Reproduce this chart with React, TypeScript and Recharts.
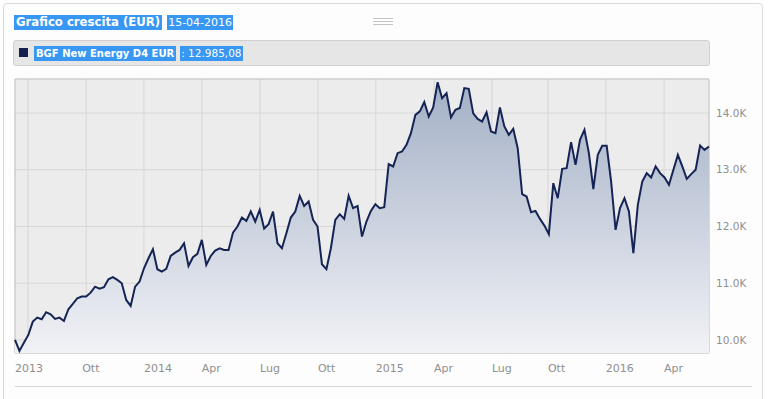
import React from "react";
import { Area, AreaChart, CartesianGrid, ReferenceArea, XAxis, YAxis } from "recharts";

// weekly NAV values (EUR)
const weeklyNav = [
  10000, 9806, 9950, 10088, 10323, 10394, 10365, 10489, 10453, 10370, 10394, 10335, 10541,
  10635, 10735, 10764, 10764, 10834, 10940, 10905, 10929, 11070, 11106, 11058, 11000, 10705,
  10600, 10940, 11029, 11264, 11440, 11599, 11247, 11205, 11252, 11481, 11540, 11587, 11705,
  11305, 11458, 11517, 11764, 11323, 11481, 11575, 11616, 11587, 11587, 11893, 11999, 12158,
  12099,
  12264, 12087, 12293, 11965, 12041, 12264, 11705, 11616, 11881, 12158, 12264, 12540, 12363,
  12440, 12117, 11999, 11335, 11247, 11616, 12117, 12217, 12134, 12540, 12323, 12363, 11823,
  12087, 12275, 12393, 12323, 12340, 13100, 13058, 13293, 13323, 13440, 13646, 13968, 14029,
  14194, 13940, 14100, 14543, 14262, 14350, 13923, 14058, 14088, 14440, 14427, 13994, 13897,
  13850,
  14013, 13674, 13646, 14100, 13763, 13616, 13721, 13381, 12569, 12528, 12251, 12275, 12134,
  12016, 11864, 12763, 12499, 13016, 13029, 13487, 13086, 13527, 13704, 13293, 12658, 13263,
  13422, 13422, 12793, 11940, 12323, 12499, 12264, 11529, 12381, 12793, 12940, 12864, 13058,
  12940, 12864, 12734, 13000, 13263, 13058, 12840, 12923, 13000, 13428, 13351, 13410,
];

const tickWeeks = [2.9, 16.0, 29.0, 42.0, 55.1, 68.1, 81.1, 94.2, 107.2, 119.8, 132.8, 145.9];
const tickLabels = ["2013", "Ott", "2014", "Apr", "Lug", "Ott", "2015", "Apr", "Lug", "Ott", "2016", "Apr"];
const yTicks = [10000, 11000, 12000, 13000, 14000];
const yDomain = [9770, 14600];

const seriesName = "BGF New Energy D4 EUR";
const lastValue = "12.985,08";

const data = weeklyNav.map((v, i) => ({ week: i, nav: v }));

const FONT = '"DejaVu Sans", Verdana, sans-serif';
const HIGHLIGHT = "#3797f2";

const hl: React.CSSProperties = {
  height: 15, lineHeight: "15px", padding: "0 2px", background: HIGHLIGHT, color: "#fff", whiteSpace: "nowrap",
};

function MonthTick({ x, y, payload }: any) {
  const i = tickWeeks.indexOf(payload.value);
  // first two labels sit a bit left of their grid line in the original
  const shift = i === 0 ? -13 : i === 1 ? -4 : 0;
  return (
    <text x={x + shift} y={y + 19} fill="#8f8f8f" fontSize={11} fontFamily={FONT} textAnchor="start">
      {tickLabels[i]}
    </text>
  );
}

export default function App() {
  return (
    <div style={{ position: "absolute", left: 0, top: 0, width: 771, height: 399, background: "#fff", overflow: "hidden", fontFamily: FONT }}>
      <div style={{ position: "absolute", left: 3, top: 3, width: 758, height: 420, border: "1px solid #d9d9d9", borderRadius: 4, background: "#fdfdfd" }} />

      <div style={{ position: "absolute", left: 14, top: 15, display: "flex", gap: 5 }}>
        <span style={{ ...hl, fontSize: 11.7, fontWeight: "bold" }}>Grafico crescita (EUR)</span>
        <span style={{ ...hl, fontSize: 11, padding: "0 1px" }}>15-04-2016</span>
      </div>

      {[18, 21, 24].map((t) => (
        <div key={t} style={{ position: "absolute", left: 373, top: t, width: 20, height: 1, background: "#c4c4c4" }} />
      ))}

      <div style={{ position: "absolute", left: 13, top: 40, width: 695, height: 24, background: "#e6e6e6", border: "1px solid #d0d0d0", borderRadius: 3 }} />
      <div style={{ position: "absolute", left: 19, top: 48, width: 9, height: 9, background: "#14214f" }} />
      <div style={{ position: "absolute", left: 34, top: 46, display: "flex", gap: 4 }}>
        <span style={{ ...hl, fontSize: 10, fontWeight: "bold" }}>{seriesName}</span>
        <span style={{ ...hl, fontSize: 10.5, padding: "0 1px" }}>{": " + lastValue}</span>
      </div>

      <div style={{ position: "absolute", left: 15, top: 386, width: 737, height: 1, background: "#d6d6d6" }} />

      <div style={{ position: "absolute", left: 0, top: 0 }}>
        <AreaChart width={771} height={399} data={data} margin={{ top: 79, right: 12, bottom: 16, left: 15 }}>
          <defs>
            <linearGradient id="navFill" x1="0" y1="0" x2="0" y2="1">
              <stop offset="0%" stopColor="#a3b0c6" />
              <stop offset="100%" stopColor="#f1f2f6" />
            </linearGradient>
          </defs>
          <CartesianGrid stroke="#d7d7d7" fill="#ececec" />
          <ReferenceArea x1={0} x2={156} y1={yDomain[0]} y2={yDomain[1]} fill="none" stroke="#c8c8c8" ifOverflow="visible" />
          <XAxis
            dataKey="week"
            type="number"
            domain={[0, 156]}
            ticks={tickWeeks}
            interval={0}
            height={30}
            tickLine={false}
            axisLine={false}
            tickSize={0}
            tickMargin={0}
            tick={<MonthTick />}
          />
          <YAxis
            orientation="right"
            width={50}
            domain={yDomain}
            ticks={yTicks}
            interval={0}
            tickLine={false}
            axisLine={false}
            tickSize={0}
            tickMargin={7}
            tick={{ fill: "#8f8f8f", fontSize: 10.5, fontFamily: FONT }}
            tickFormatter={(v: number) => `${(v / 1000).toFixed(1)}K`}
          />
          <Area
            type="linear"
            dataKey="nav"
            stroke="#152454"
            strokeWidth={2}
            fill="url(#navFill)"
            fillOpacity={1}
            baseValue={yDomain[0]}
            isAnimationActive={false}
            dot={false}
            activeDot={false}
          />
        </AreaChart>
      </div>
    </div>
  );
}
